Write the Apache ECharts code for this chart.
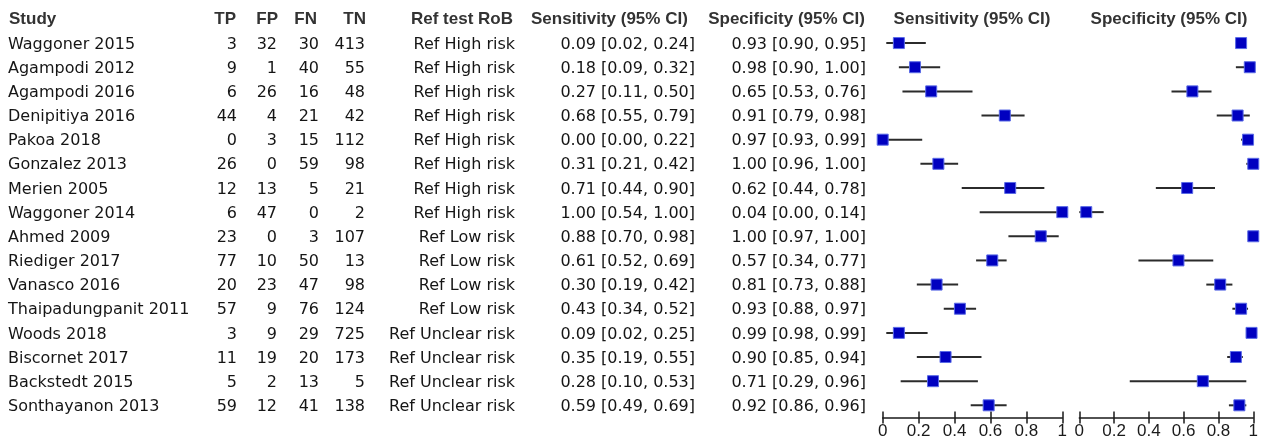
<!DOCTYPE html>
<html>
<head>
<meta charset="utf-8">
<title>Forest plot: sensitivity and specificity by study</title>
<script src="https://cdn.jsdelivr.net/npm/echarts@6/dist/echarts.min.js"></script>
<style>
  html, body { margin: 0; padding: 0; background: #ffffff; }
  #chart { width: 1261px; height: 441px; }
</style>
</head>
<body>
<div id="chart"></div>
<script>
// Study-level 2x2 counts and accuracy estimates
const studies = ['Waggoner 2015', 'Agampodi 2012', 'Agampodi 2016', 'Denipitiya 2016', 'Pakoa 2018',
  'Gonzalez 2013', 'Merien 2005', 'Waggoner 2014', 'Ahmed 2009', 'Riediger 2017', 'Vanasco 2016',
  'Thaipadungpanit 2011', 'Woods 2018', 'Biscornet 2017', 'Backstedt 2015', 'Sonthayanon 2013'];
const tp = [3, 9, 6, 44, 0, 26, 12, 6, 23, 77, 20, 57, 3, 11, 5, 59];
const fp = [32, 1, 26, 4, 3, 0, 13, 47, 0, 10, 23, 9, 9, 19, 2, 12];
const fn = [30, 40, 16, 21, 15, 59, 5, 0, 3, 50, 47, 76, 29, 20, 13, 41];
const tn = [413, 55, 48, 42, 112, 98, 21, 2, 107, 13, 98, 124, 725, 173, 5, 138];
const refRob = ['Ref High risk', 'Ref High risk', 'Ref High risk', 'Ref High risk', 'Ref High risk',
  'Ref High risk', 'Ref High risk', 'Ref High risk', 'Ref Low risk', 'Ref Low risk', 'Ref Low risk',
  'Ref Low risk', 'Ref Unclear risk', 'Ref Unclear risk', 'Ref Unclear risk', 'Ref Unclear risk'];

const sens   = [0.09, 0.18, 0.27, 0.68, 0.00, 0.31, 0.71, 1.00, 0.88, 0.61, 0.30, 0.43, 0.09, 0.35, 0.28, 0.59];
const sensLo = [0.02, 0.09, 0.11, 0.55, 0.00, 0.21, 0.44, 0.54, 0.70, 0.52, 0.19, 0.34, 0.02, 0.19, 0.10, 0.49];
const sensHi = [0.24, 0.32, 0.50, 0.79, 0.22, 0.42, 0.90, 1.00, 0.98, 0.69, 0.42, 0.52, 0.25, 0.55, 0.53, 0.69];
const spec   = [0.93, 0.98, 0.65, 0.91, 0.97, 1.00, 0.62, 0.04, 1.00, 0.57, 0.81, 0.93, 0.99, 0.90, 0.71, 0.92];
const specLo = [0.90, 0.90, 0.53, 0.79, 0.93, 0.96, 0.44, 0.00, 0.97, 0.34, 0.73, 0.88, 0.98, 0.85, 0.29, 0.86];
const specHi = [0.95, 1.00, 0.76, 0.98, 0.99, 1.00, 0.78, 0.14, 1.00, 0.77, 0.88, 0.97, 0.99, 0.94, 0.96, 0.96];

const tickLabels = ['0', '0.2', '0.4', '0.6', '0.8', '1'];
const headers = ['Study', 'TP', 'FP', 'FN', 'TN', 'Ref test RoB', 'Sensitivity (95% CI)', 'Specificity (95% CI)'];

// ---- layout / styling ----
const W = 1261;
const GRID_TOP = 31;
const GRID_BOTTOM = 23.6;
const TICK_HALF = 6;
const BODY_FONT = '"DejaVu Sans", sans-serif';
const HEAD_FONT = '"Liberation Sans", Arial, sans-serif';
const TICK_FONT = '"Liberation Sans Narrow", "Liberation Sans", Arial, sans-serif';
const BODY_COLOR = '#151515';
const HEAD_COLOR = '#333333';
const AXIS_COLOR = '#1a1a1a';
const BODY_SIZE = 16;
const HEAD_SIZE = 17;
const TEXT_DY = 1.5;

// table columns: [x anchor in px, alignment]
const cols = [
  [8, 'left'],    // study
  [237, 'right'], // TP
  [277, 'right'], // FP
  [319, 'right'], // FN
  [365, 'right'], // TN
  [515, 'right'], // Ref test RoB
  [695, 'right'], // sensitivity CI
  [866, 'right']  // specificity CI
];

const fmt = v => v.toFixed(2);
const rowIdx = studies.map((_, i) => i);
const tableRows = rowIdx.map(i => [0, i]);

function ciData(lo, hi) {
  return rowIdx.map(i => [lo[i], hi[i], i]);
}
function pointData(est) {
  return rowIdx.map(i => [est[i], i]);
}

function rowTexts(i) {
  return [
    studies[i], String(tp[i]), String(fp[i]), String(fn[i]), String(tn[i]), refRob[i],
    fmt(sens[i]) + ' [' + fmt(sensLo[i]) + ', ' + fmt(sensHi[i]) + ']',
    fmt(spec[i]) + ' [' + fmt(specLo[i]) + ', ' + fmt(specHi[i]) + ']'
  ];
}

const chart = echarts.init(document.getElementById('chart'), null, { renderer: 'canvas' });

const yCat = (gridIndex) => ({
  type: 'category', gridIndex, data: studies, inverse: true,
  boundaryGap: true,
  axisLine: { show: false }, axisTick: { show: false }, axisLabel: { show: false },
  splitLine: { show: false }
});

// axis line at the bottom of the plot area
const xLine = (gridIndex) => ({
  type: 'value', gridIndex, min: 0, max: 1, interval: 0.2, position: 'bottom',
  axisLine: { show: true, onZero: false, lineStyle: { color: AXIS_COLOR, width: 1.5 } },
  axisTick: { show: false },
  axisLabel: { show: false },
  splitLine: { show: false }
});

// ticks that cross the axis line, plus the tick labels
const xTicks = (gridIndex) => ({
  type: 'value', gridIndex, min: 0, max: 1, interval: 0.2, position: 'bottom',
  offset: -TICK_HALF,
  axisLine: { show: false, onZero: false },
  axisTick: { show: true, length: TICK_HALF * 2, lineStyle: { color: AXIS_COLOR, width: 1.5 } },
  axisLabel: {
    show: true, margin: 11, color: AXIS_COLOR, fontFamily: TICK_FONT, fontSize: 17,
    formatter: v => tickLabels[Math.round(v / 0.2)]
  },
  splitLine: { show: false }
});

function ciSeries(xAxisIndex, yAxisIndex, lo, hi) {
  return {
    type: 'custom', xAxisIndex, yAxisIndex, clip: false,
    data: ciData(lo, hi),
    renderItem: (params, api) => {
      const a = api.coord([api.value(0), api.value(2)]);
      const b = api.coord([api.value(1), api.value(2)]);
      return {
        type: 'line',
        shape: { x1: a[0], y1: a[1], x2: b[0], y2: b[1] },
        style: { stroke: '#2b2b2b', lineWidth: 2 }
      };
    },
    silent: true
  };
}

function pointSeries(xAxisIndex, yAxisIndex, est) {
  return {
    type: 'scatter', xAxisIndex, yAxisIndex, clip: false,
    data: pointData(est),
    symbol: 'rect', symbolSize: 11,
    itemStyle: { color: '#0000c0', borderColor: '#5a6ae6', borderWidth: 1, opacity: 1 },
    silent: true, z: 3
  };
}

const headerY = 19;
const headerItems = [
  { x: 9, align: 'left', t: headers[0] },
  { x: 236, align: 'right', t: headers[1] },
  { x: 278, align: 'right', t: headers[2] },
  { x: 317, align: 'right', t: headers[3] },
  { x: 366, align: 'right', t: headers[4] },
  { x: 513, align: 'right', t: headers[5] },
  { x: 531, align: 'left', t: headers[6] },
  { x: 865, align: 'right', t: headers[7] },
  { x: 972, align: 'center', t: headers[6] },
  { x: 1169, align: 'center', t: headers[7] }
].map(h => ({
  type: 'text', x: h.x, y: headerY,
  style: {
    text: h.t, align: h.align, verticalAlign: 'middle',
    fontFamily: HEAD_FONT, fontWeight: 'bold', fontSize: HEAD_SIZE, fill: HEAD_COLOR
  }
}));

const option = {
  backgroundColor: '#ffffff',
  animation: false,
  grid: [
    { left: 0, right: 0, top: GRID_TOP, bottom: GRID_BOTTOM },                  // table
    { left: 882.7, width: 179.6, top: GRID_TOP, bottom: GRID_BOTTOM },          // sensitivity
    { left: 1079.3, width: 179, top: GRID_TOP, bottom: GRID_BOTTOM }            // specificity
  ],
  xAxis: [
    { type: 'value', gridIndex: 0, min: 0, max: W, show: false },
    xLine(1), xTicks(1),
    xLine(2), xTicks(2)
  ],
  yAxis: [yCat(0), yCat(1), yCat(2)],
  graphic: headerItems,
  series: [
    {
      type: 'custom', xAxisIndex: 0, yAxisIndex: 0, clip: false,
      data: tableRows,
      renderItem: (params, api) => {
        const i = api.value(1);
        const y = api.coord([0, i])[1] + TEXT_DY;
        const texts = rowTexts(i);
        return {
          type: 'group',
          children: texts.map((t, c) => ({
            type: 'text',
            x: api.coord([cols[c][0], i])[0], y,
            style: {
              text: t, align: cols[c][1], verticalAlign: 'middle',
              fontFamily: BODY_FONT, fontSize: BODY_SIZE, fill: BODY_COLOR
            }
          }))
        };
      },
      silent: true
    },
    ciSeries(1, 1, sensLo, sensHi),
    pointSeries(1, 1, sens),
    ciSeries(3, 2, specLo, specHi),
    pointSeries(3, 2, spec)
  ]
};

chart.setOption(option);
</script>
</body>
</html>
